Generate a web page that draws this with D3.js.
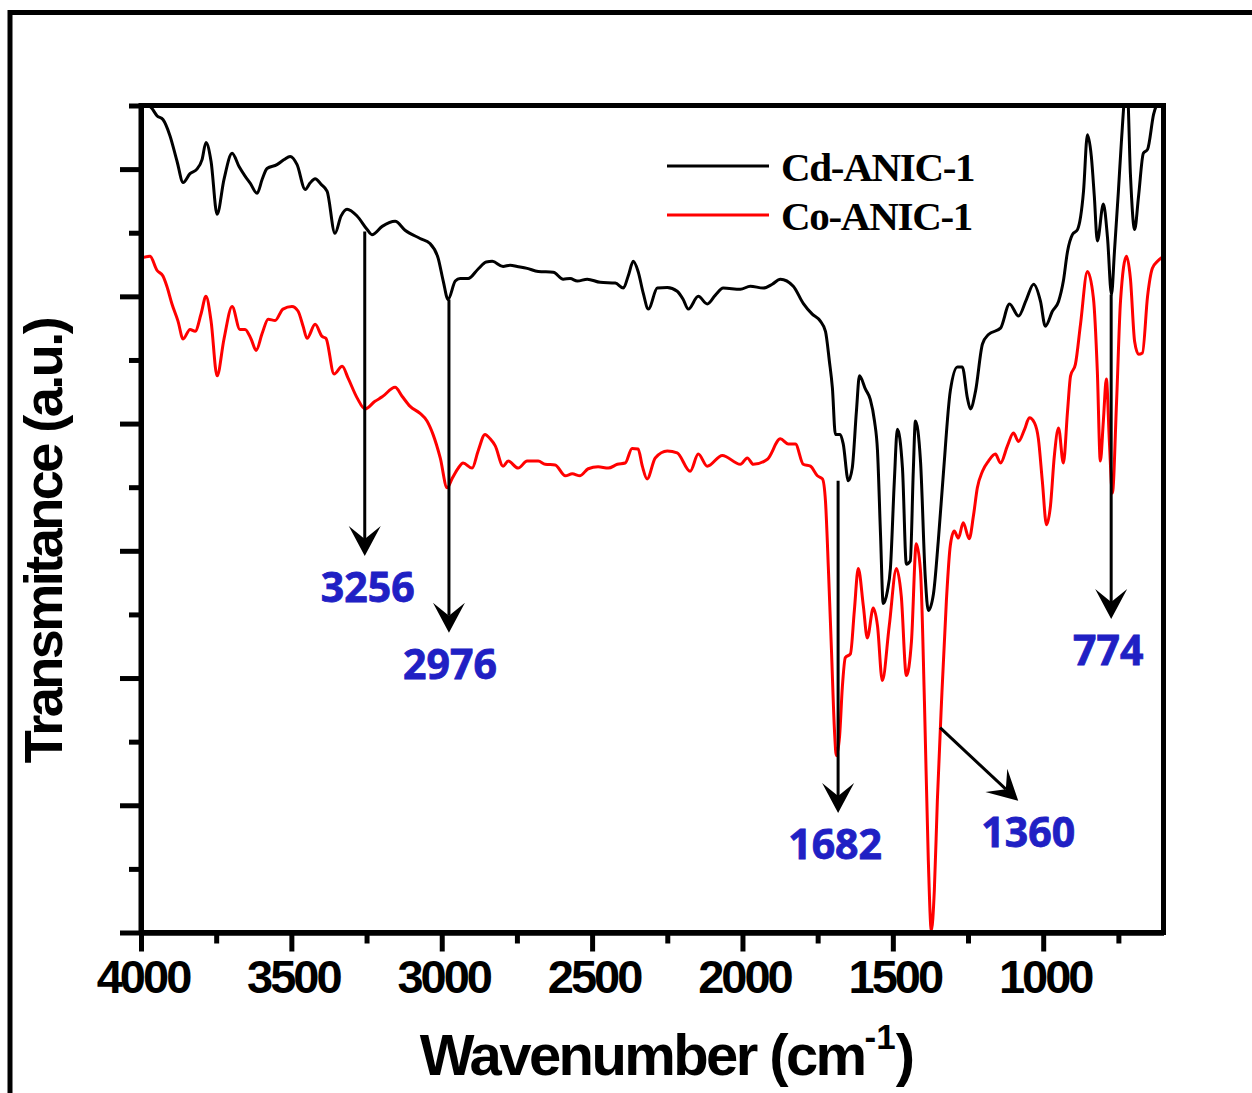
<!DOCTYPE html>
<html>
<head>
<meta charset="utf-8">
<script src="https://cdn.jsdelivr.net/npm/d3@7"></script>
<style>
  body { margin: 0; background: #fff; }
  svg { display: block; }
</style>
</head>
<body>
<div id="chart"></div>
<script>
// Cd-ANIC-1 (black) : wavenumber (cm-1) and transmittance (a.u.)
const cdWn = [4000,3963,3947,3927,3904,3880,3860,3837,3814,3797,
  3784,3767,3747,3724,3697,3674,3654,3637,3614,3597,
  3581,3548,3524,3504,3481,3454,3438,3421,3401,3381,
  3355,3335,3315,3281,3248,3232,3198,3155,3122,3072,
  3039,3012,2995,2979,2955,2939,2912,2879,2852,2832,
  2796,2772,2749,2716,2679,2629,2596,2573,2549,2516,
  2473,2423,2396,2380,2363,2347,2330,2313,2283,2250,
  2217,2197,2180,2147,2117,2090,2064,2007,1974,1931,
  1901,1874,1831,1798,1768,1741,1724,1711,1701,1691,
  1675,1665,1648,1635,1621,1611,1591,1575,1561,1551,
  1541,1532,1518,1508,1495,1485,1468,1455,1442,1432,
  1425,1408,1392,1382,1365,1349,1332,1309,1285,1269,
  1252,1242,1225,1202,1182,1142,1112,1082,1056,1032,
  1009,993,969,949,933,919,903,886,866,853,
  840,830,820,800,786,773,763,750,740,726,
  720,710,696,683,667,653,633,610,600];
const cdT = [130.9,129.5,128.4,127.8,125.3,121.2,117.9,119.3,120.0,121.5,
  124.2,121.2,112.9,118.4,122.5,120.4,118.9,117.8,116.2,118.4,
  120.1,120.7,121.5,122.0,120.7,116.8,117.8,118.5,117.6,116.5,
  109.9,112.6,113.7,112.6,110.5,109.7,111.0,111.8,110.4,109.1,
  108.3,106.0,102.4,99.5,102.4,102.8,102.8,104.3,105.4,105.5,
  104.7,104.9,104.7,104.4,103.9,103.8,102.7,102.8,102.4,102.7,
  102.2,102.1,101.3,103.2,105.5,103.9,100.5,98.0,101.3,101.4,
  100.8,99.5,98.0,100.0,98.8,100.2,101.3,101.1,101.6,101.3,
  101.9,102.7,101.6,98.9,97.2,96.1,94.5,89.8,85.6,78.3,
  78.3,76.8,71.0,73.0,82.0,87.5,85.4,83.8,80.4,75.7,
  62.6,51.7,53.7,57.3,71.0,79.1,73.0,57.9,58.4,72.5,
  80.4,74.1,55.7,50.6,53.2,61.5,72.1,85.1,88.9,88.9,
  84.0,82.3,85.1,92.5,94.0,95.0,98.8,96.9,99.5,101.9,
  99.2,95.3,97.7,99.2,102.4,107.1,109.7,110.5,116.5,125.4,
  122.0,115.7,108.7,114.5,109.1,100.3,107.1,116.5,124.3,132,
  132,119.2,110.5,115.7,122.5,123.1,128.6,131.4,132.5];

// Co-ANIC-1 (red)
const coWn = [4000,3970,3947,3927,3914,3897,3877,3860,3837,3820,
  3800,3784,3767,3747,3724,3697,3671,3654,3634,3617,
  3597,3577,3554,3528,3498,3478,3461,3448,3421,3398,
  3385,3358,3331,3311,3281,3255,3222,3198,3155,3132,
  3105,3072,3049,3029,3005,2982,2965,2945,2929,2899,
  2879,2856,2839,2822,2796,2779,2746,2716,2679,2656,
  2623,2589,2566,2540,2513,2480,2446,2416,2390,2367,
  2347,2333,2317,2290,2250,2217,2174,2147,2117,2067,
  2007,1984,1964,1917,1874,1848,1824,1798,1774,1751,
  1734,1724,1714,1704,1694,1688,1677,1668,1658,1641,
  1628,1615,1598,1585,1565,1551,1535,1512,1488,1472,
  1455,1438,1422,1408,1395,1382,1372,1362,1352,1338,
  1322,1309,1296,1282,1266,1246,1232,1219,1202,1182,
  1159,1142,1119,1099,1082,1062,1046,1029,1016,1003,
  989,976,963,949,933,919,909,893,876,853,
  833,820,810,800,790,780,770,756,743,723,
  710,696,683,670,653,637,620,600];
const coT = [106.0,106.3,104.1,103.2,101.6,98.8,96.1,93.3,94.8,94.5,
  97.3,100.0,96.1,87.5,93.3,98.4,94.8,94.8,93.3,91.5,
  94.2,96.4,96.2,98.0,98.4,97.7,95.3,93.4,95.6,93.7,
  93.4,87.8,89.0,87.1,84.0,82.3,83.5,84.2,85.7,84.3,
  82.7,81.6,80.4,78.3,74.6,69.9,71.4,73.0,73.8,73.0,
  75.7,78.3,77.6,76.5,73.3,74.1,73.0,74.1,74.1,73.6,
  73.5,71.8,72.1,71.8,72.9,73.2,73.0,73.6,73.8,76.1,
  76.0,73.3,71.3,74.6,75.7,75.4,72.5,75.2,73.3,75.0,
  73.6,74.6,73.6,74.4,77.6,76.8,76.8,73.6,73.3,71.8,
  71.3,67.8,56.8,44.3,31.7,27.8,30.9,38.5,43.2,43.8,
  50.6,57.2,51.3,46.3,51.0,48.2,39.6,48.2,57.2,52.9,
  40.4,45.8,61.1,56.8,36.4,11.3,0.3,6.6,20.7,36.4,
  52.1,60.8,63.1,62.0,64.4,61.9,65.5,69.9,72.5,74.1,
  75.2,73.8,76.5,78.5,77.2,79.1,80.9,80.1,77.6,71.0,
  64.1,67.0,74.9,79.3,73.8,82.0,87.5,89.3,95.6,103.9,
  99.7,88.2,74.1,80.4,87.0,77.2,69.1,83.5,99.2,106.3,
  102.8,92.9,90.9,91.1,100.0,104.4,105.5,106.3];

const seriesNames = ["Cd-ANIC-1", "Co-ANIC-1"];
const seriesColors = ["#000000", "#ff0000"];

const xMajor = [4000, 3500, 3000, 2500, 2000, 1500, 1000];
const xMinor = [3750, 3250, 2750, 2250, 1750, 1250, 750];
const yMajor = [0, 20, 40, 60, 80, 100, 120];
const yMinor = [10, 30, 50, 70, 90, 110, 130];

// peak annotations: label, arrow start (wn, T), arrow tip (wn, T)
const annLabel = ["3256", "2976", "1682", "1360", "774"];
const annX0 = [3256, 2976, 1682, 1343, 774];
const annY0 = [110.2, 99.5, 71.0, 32.2, 100.3];
const annX1 = [3256, 2976, 1682, 1083, 774];
const annY1 = [59.2, 47.1, 18.8, 20.7, 49.3];

const W = 1252, H = 1093;
const margin = { left: 141, top: 105.5, right: 1163.5, bottom: 932.5 };
const width = margin.right - margin.left;
const height = margin.bottom - margin.top;

const svg = d3.select("#chart").append("svg")
  .attr("width", W)
  .attr("height", H);

// outer picture frame (only left/top visible)
svg.append("rect")
  .attr("x", 10).attr("y", 12.5)
  .attr("width", 1400).attr("height", 1300)
  .attr("fill", "none").attr("stroke", "#000").attr("stroke-width", 5);

const g = svg.append("g")
  .attr("transform", `translate(${margin.left},${margin.top})`);

const x = d3.scaleLinear().domain([4000, 600]).range([0, width]);
const y = d3.scaleLinear().domain([0, 130]).range([height, 0]);

g.append("clipPath").attr("id", "plotClip")
  .append("rect").attr("x", 0).attr("y", 0).attr("width", width).attr("height", height);

// curves
const line = d3.line()
  .curve(d3.curveMonotoneX)
  .x((d) => x(d[0]))
  .y((d) => y(d[1]));

const series = [d3.zip(cdWn, cdT), d3.zip(coWn, coT)];
series.forEach((s, i) => {
  g.append("path")
    .datum(s)
    .attr("clip-path", "url(#plotClip)")
    .attr("fill", "none")
    .attr("stroke", seriesColors[i])
    .attr("stroke-width", 3)
    .attr("stroke-linejoin", "round")
    .attr("d", line);
});

// axes
const axisFont = "'Liberation Sans', Arial, sans-serif";

function styleAxis(sel) {
  sel.select(".domain").attr("stroke", "#000").attr("stroke-width", 5);
  sel.selectAll(".tick line").attr("stroke", "#000").attr("stroke-width", 5);
}

const xAxis = g.append("g")
  .attr("transform", `translate(0,${height})`)
  .call(d3.axisBottom(x).tickValues(xMajor).tickSize(19).tickSizeOuter(0).tickFormat(d3.format("d")))
  .call(styleAxis);
xAxis.selectAll(".tick text")
  .attr("y", 60).attr("dy", null).attr("dx", 1.5)
  .attr("fill", "#000")
  .style("font-family", axisFont)
  .style("font-weight", "bold")
  .style("font-size", "47px")
  .style("letter-spacing", "-3px");

g.append("g")
  .attr("transform", `translate(0,${height})`)
  .call(d3.axisBottom(x).tickValues(xMinor).tickSize(11).tickSizeOuter(0).tickFormat(""))
  .call(styleAxis);

g.append("g")
  .call(d3.axisLeft(y).tickValues(yMajor).tickSize(21).tickSizeOuter(0).tickFormat(""))
  .call(styleAxis);
g.append("g")
  .call(d3.axisLeft(y).tickValues(yMinor).tickSize(12).tickSizeOuter(0).tickFormat(""))
  .call(styleAxis);

// plot box
g.append("rect")
  .attr("width", width).attr("height", height)
  .attr("fill", "none").attr("stroke", "#000").attr("stroke-width", 5);

// annotations
const labelDx = [3, 1, -3, 10, -3];
annLabel.forEach((lab, i) => {
  const x0 = x(annX0[i]), y0 = y(annY0[i]);
  const x1 = x(annX1[i]), y1 = y(annY1[i]);
  const ang = Math.atan2(y1 - y0, x1 - x0);
  g.append("line")
    .attr("x1", x0).attr("y1", y0)
    .attr("x2", x1 - 17 * Math.cos(ang)).attr("y2", y1 - 17 * Math.sin(ang))
    .attr("stroke", "#000").attr("stroke-width", 3);
  g.append("path")
    .attr("d", "M0,0 L-30,-16 L-17,0 L-30,16 Z")
    .attr("transform", `translate(${x1},${y1}) rotate(${ang * 180 / Math.PI})`)
    .attr("fill", "#000");
  g.append("text")
    .attr("x", x1 + labelDx[i])
    .attr("y", y1 + 46)
    .attr("text-anchor", "middle")
    .attr("fill", "#2020c4")
    .attr("stroke", "#2020c4")
    .attr("stroke-width", 0.8)
    .style("font-family", "'Open Sans', 'Noto Sans', sans-serif")
    .style("font-weight", "bold")
    .style("font-size", "41px")
    .text(lab);
});

// legend
const legend = svg.append("g").attr("transform", "translate(667,166)");
seriesNames.forEach((name, i) => {
  legend.append("line")
    .attr("x1", 0).attr("x2", 102)
    .attr("y1", i * 49).attr("y2", i * 49)
    .attr("stroke", seriesColors[i]).attr("stroke-width", 3);
  legend.append("text")
    .attr("x", 114).attr("y", i * 49 + 15)
    .attr("fill", "#000")
    .style("font-family", "'Liberation Serif', 'Times New Roman', serif")
    .style("font-weight", "bold")
    .style("font-size", "41px")
    .style("letter-spacing", "-1.3px")
    .text(name);
});

// axis titles
const xt = svg.append("text")
  .attr("x", 666).attr("y", 1075)
  .attr("text-anchor", "middle")
  .attr("fill", "#000")
  .style("font-family", axisFont)
  .style("font-weight", "bold")
  .style("font-size", "58px")
  .style("letter-spacing", "-2.6px");
xt.append("tspan").text("Wavenumber (cm");
xt.append("tspan").attr("dy", -26).style("font-size", "35px").style("letter-spacing", "0px").text("-1");
xt.append("tspan").attr("dy", 26).text(")");

svg.append("text")
  .attr("transform", "translate(62,541) rotate(-90)")
  .attr("text-anchor", "middle")
  .attr("fill", "#000")
  .style("font-family", axisFont)
  .style("font-weight", "bold")
  .style("font-size", "54px")
  .style("letter-spacing", "-2.5px")
  .text("Transmitance (a.u.)");
</script>
</body>
</html>
